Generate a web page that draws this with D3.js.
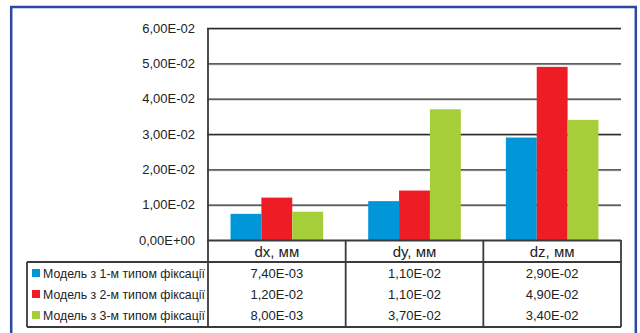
<!DOCTYPE html>
<html><head><meta charset="utf-8">
<script src="https://cdn.jsdelivr.net/npm/d3@7"></script>
<style>body{margin:0;background:#fff;}svg{display:block;font-family:"Liberation Sans",Arial,sans-serif;}</style>
</head><body><svg id="c" width="640" height="333"></svg>
<script>
const categories = ["dx, мм", "dy, мм", "dz, мм"];
const seriesNames = ["Модель з 1-м типом фіксації", "Модель з 2-м типом фіксації", "Модель з 3-м типом фіксації"];
const series1 = [0.0074, 0.011, 0.029];
const series2 = [0.012, 0.014, 0.049];
const series3 = [0.008, 0.037, 0.034];
const tableText1 = ["7,40E-03", "1,10E-02", "2,90E-02"];
const tableText2 = ["1,20E-02", "1,10E-02", "4,90E-02"];
const tableText3 = ["8,00E-03", "3,70E-02", "3,40E-02"];
const yTicks = [0, 0.01, 0.02, 0.03, 0.04, 0.05, 0.06];
const yTickLabels = ["0,00E+00", "1,00E-02", "2,00E-02", "3,00E-02", "4,00E-02", "5,00E-02", "6,00E-02"];
const colors = ["#0096d8", "#ee1c25", "#a6ce39"];

const svg = d3.select("#c");
const L = 208, R = 621, T = 28, B = 240;
const y = d3.scaleLinear().domain([0, 0.06]).range([B, T]);
const x0 = d3.scaleBand().domain(categories).range([L, R]);
const x1 = d3.scaleBand().domain([0,1,2]).range([0, x0.bandwidth()]).paddingOuter(0.73).paddingInner(0);
const values = [series1, series2, series3];
const texts = [tableText1, tableText2, tableText3];
const lineCol = "#3a3a3a";

// frame
svg.append("rect").attr("x", 11.2).attr("y", 7).attr("width", 624.6).attr("height", 340)
  .attr("fill", "none").attr("stroke", "#2b48a2").attr("stroke-width", 2.5);

// gridlines
const g = svg.append("g");
yTicks.forEach((t, i) => {
  if (t === 0) return;
  g.append("line").attr("x1", L - 1).attr("x2", R).attr("y1", y(t) + 1.5).attr("y2", y(t) + 1.5)
    .attr("stroke", "#cfcfcf").attr("stroke-width", 1);
  g.append("line").attr("x1", L - 1).attr("x2", R).attr("y1", y(t) + 0.5).attr("y2", y(t) + 0.5)
    .attr("stroke", "#2a2a2a").attr("stroke-width", 1.3);
});

// bars
values.forEach((vals, s) => {
  svg.append("g").selectAll("rect").data(vals).join("rect")
    .attr("x", (d, i) => x0(categories[i]) + x1(s))
    .attr("width", x1.bandwidth())
    .attr("y", d => y(d))
    .attr("height", d => y(0) - y(d))
    .attr("fill", colors[s]);
});

// y labels
svg.append("g").selectAll("text").data(yTicks).join("text")
  .attr("x", 195).attr("y", d => y(d) + 4.5).attr("text-anchor", "end")
  .attr("font-size", 13).attr("fill", "#222").text((d, i) => yTickLabels[i]);

// table lines
const tb = svg.append("g").attr("stroke", lineCol).attr("stroke-width", 1.8).attr("fill", "none");
const rowTop = 262, tblBot = 327, tblLeft = 27;
tb.append("line").attr("x1", L - 1).attr("x2", R).attr("y1", B + 0.5).attr("y2", B + 0.5);
tb.append("line").attr("x1", L).attr("x2", L).attr("y1", T).attr("y2", tblBot);
tb.append("line").attr("x1", tblLeft).attr("x2", R).attr("y1", rowTop).attr("y2", rowTop);
tb.append("line").attr("x1", tblLeft).attr("x2", R).attr("y1", tblBot).attr("y2", tblBot);
tb.append("line").attr("x1", tblLeft).attr("x2", tblLeft).attr("y1", rowTop).attr("y2", tblBot);
categories.forEach(c => {
  const xr = x0(c) + x0.bandwidth();
  tb.append("line").attr("x1", xr).attr("x2", xr).attr("y1", B).attr("y2", tblBot);
});

// headers
svg.append("g").selectAll("text").data(categories).join("text")
  .attr("x", d => x0(d) + x0.bandwidth() / 2).attr("y", 257)
  .attr("text-anchor", "middle").attr("font-size", 15).attr("fill", "#222").text(d => d);

// rows
const rowBase = [278, 299, 320];
seriesNames.forEach((n, s) => {
  svg.append("rect").attr("x", 32).attr("y", rowBase[s] - 9).attr("width", 8).attr("height", 8).attr("fill", colors[s]);
  svg.append("text").attr("x", 43).attr("y", rowBase[s]).attr("font-size", 12.3).attr("fill", "#222").text(n);
  categories.forEach((c, i) => {
    svg.append("text").attr("x", x0(c) + x0.bandwidth() / 2).attr("y", rowBase[s])
      .attr("text-anchor", "middle").attr("font-size", 13).attr("fill", "#222").text(texts[s][i]);
  });
});
</script></body></html>
